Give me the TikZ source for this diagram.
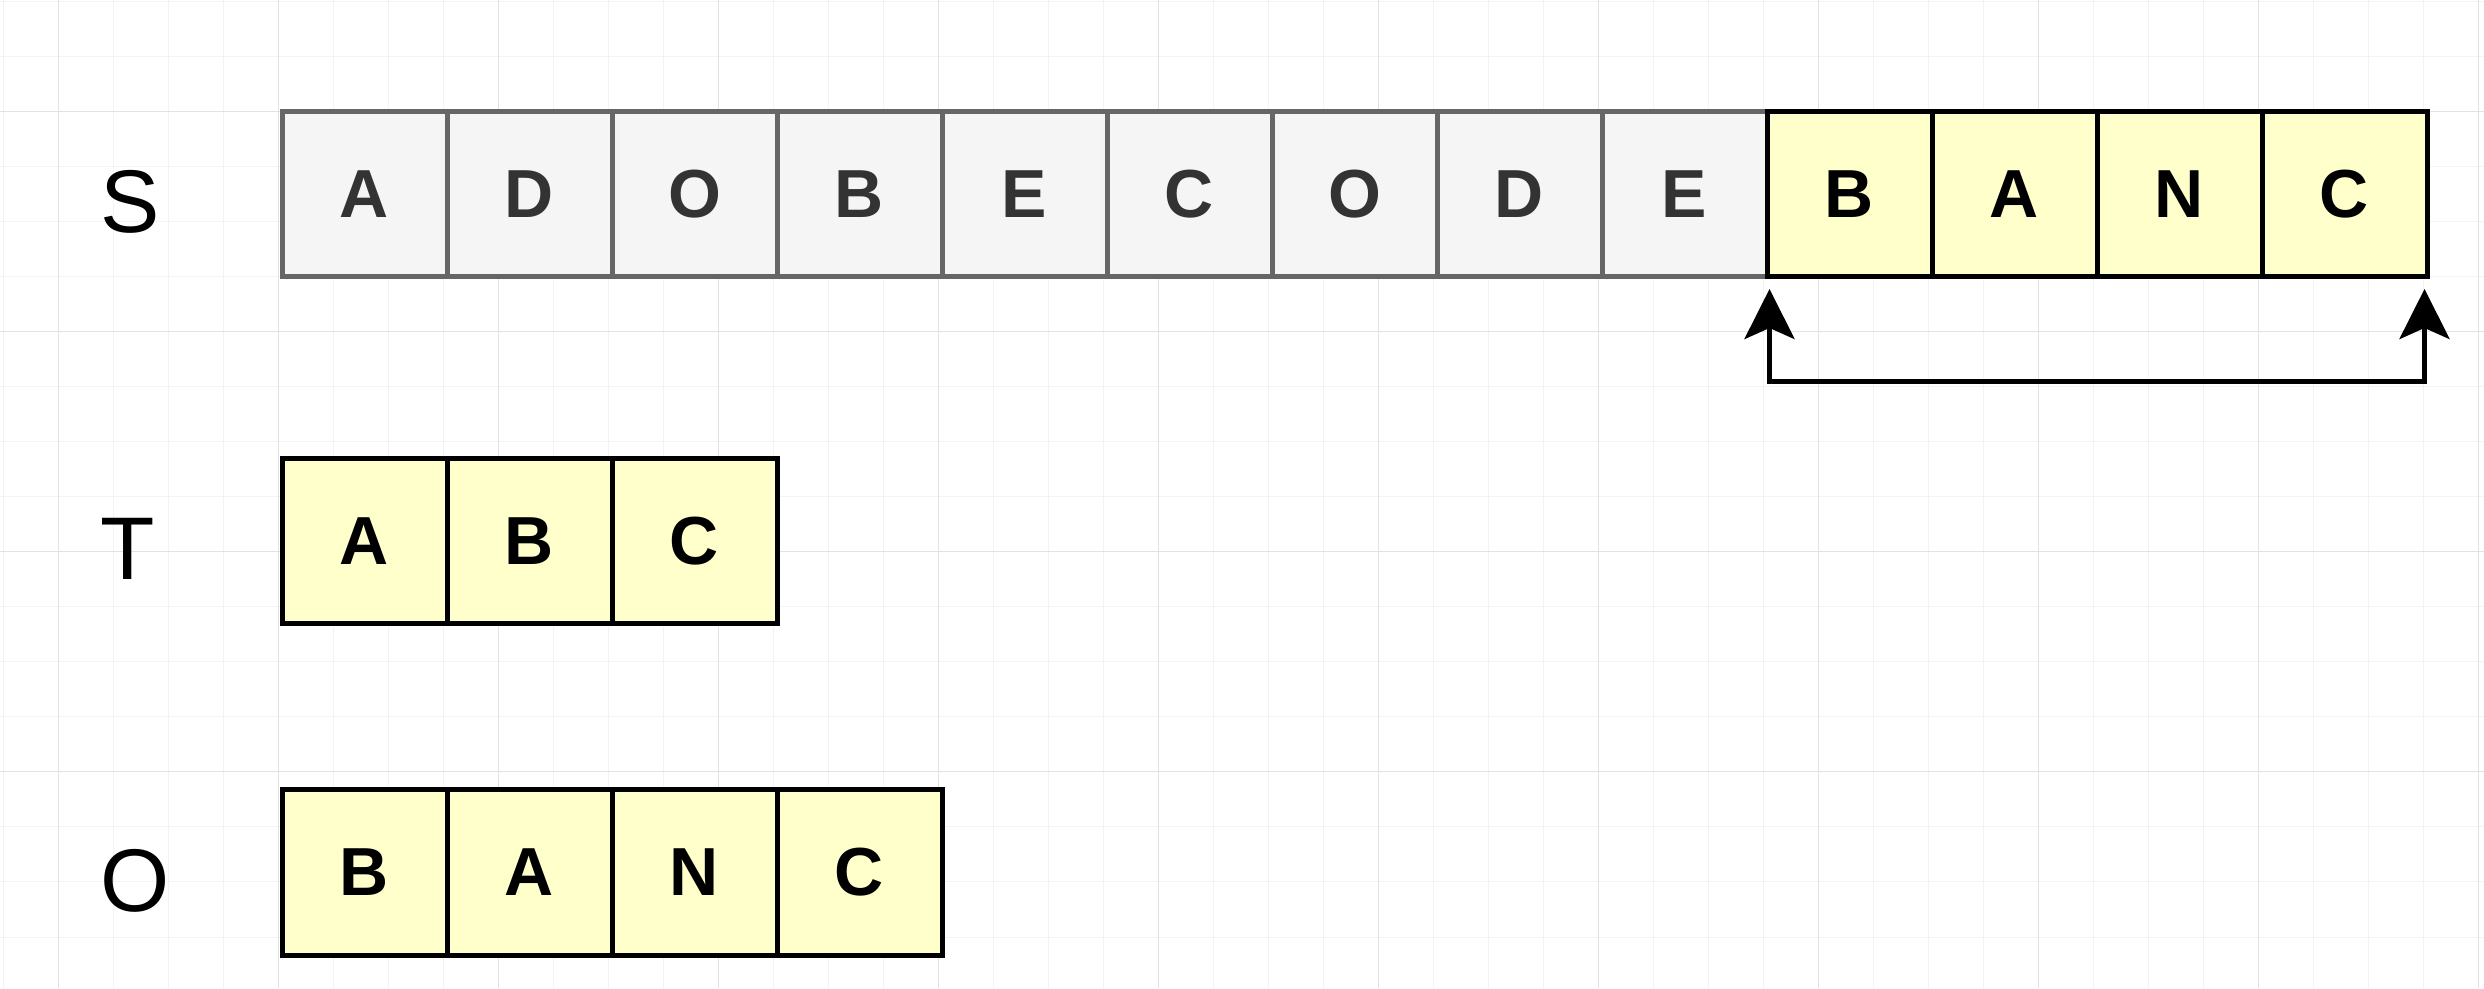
\documentclass[tikz,border=0pt]{standalone}
\usepackage{fontspec}
\setmainfont{Liberation Sans}
\usetikzlibrary{arrows.meta,calc}
\definecolor{gfill}{HTML}{F5F5F5}
\definecolor{gline}{HTML}{666666}
\definecolor{gtext}{HTML}{333333}
\definecolor{yfill}{HTML}{FFFFCC}
\definecolor{gridmin}{HTML}{F3F3F3}
\definecolor{gridmaj}{HTML}{E2E2E2}
\begin{document}
\begin{tikzpicture}[x=1pt,y=1pt,
  cell/.style={minimum width=165pt,minimum height=165pt,inner sep=0pt,outer sep=0pt,
    line width=5pt,font=\fontsize{68}{68}\selectfont\bfseries,anchor=center},
  graycell/.style={cell,draw=gline,fill=gfill,text=gtext},
  yelcell/.style={cell,draw=black,fill=yfill,text=black},
  rowlabel/.style={inner sep=0pt,anchor=base west,font=\fontsize{89}{89}\selectfont},
  tipshape/.tip={Stealth[length=50pt,width=50pt,inset=11pt]},
  conn/.style={line width=5pt,tipshape-tipshape}]
\useasboundingbox (0,0) rectangle (2484,988);
\fill[white] (0,0) rectangle (2484,988);
% grid
\foreach \k in {0,...,45} \draw[gridmin,line width=1pt] (3+55*\k,0) -- (3+55*\k,988);
\foreach \k in {0,...,17} \draw[gridmin,line width=1pt] (0,986-55*\k) -- (2484,986-55*\k);
\foreach \k in {0,...,11} \draw[gridmaj,line width=1pt] (58+220*\k,0) -- (58+220*\k,988);
\foreach \k in {0,...,3} \draw[gridmaj,line width=1pt] (0,876-220*\k) -- (2484,876-220*\k);
% row labels
\node[rowlabel] (ls) at (100,755) {S};
\node[rowlabel] (lt) at (100,408) {T};
\node[rowlabel] (lo) at (100,77) {O};
% S row
\foreach \l [count=\i from 0] in {A,D,O,B,E,C,O,D,E}
  \node[graycell] (s\i) at (364.5+165*\i,793.5) {\l};
\foreach \l [count=\i from 9] in {B,A,N,C}
  \node[yelcell] (s\i) at (364.5+165*\i,793.5) {\l};
% T row
\foreach \l [count=\i from 0] in {A,B,C}
  \node[yelcell] (t\i) at (364.5+165*\i,446.5) {\l};
% O row
\foreach \l [count=\i from 0] in {B,A,N,C}
  \node[yelcell] (o\i) at (364.5+165*\i,115.5) {\l};
% connector
\draw[conn] ($(s9.south west)+(2.5,-12)$) -- ++(0,-92.5) -| ($(s12.south east)+(-2.5,-12)$);
\end{tikzpicture}
\end{document}
